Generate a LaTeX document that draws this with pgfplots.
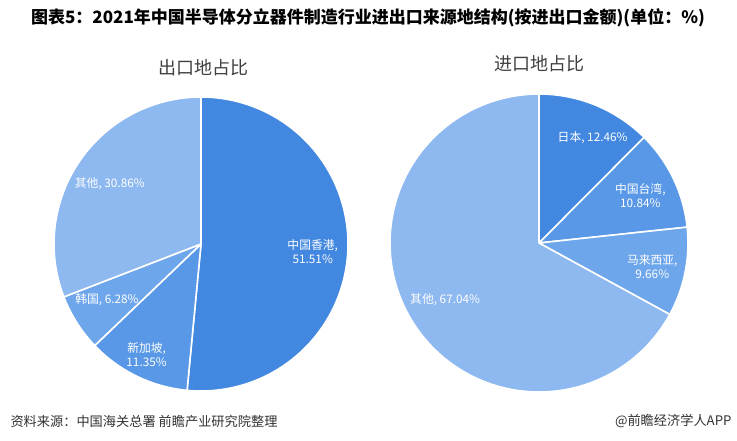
\documentclass[border=0pt]{standalone}
\usepackage{pgfplots}
\pgfplotsset{compat=1.18}
\usepackage{fontspec}
\setmainfont{Noto Sans CJK SC}
\definecolor{cA}{RGB}{66,135,224}
\definecolor{cB}{RGB}{88,152,230}
\definecolor{cC}{RGB}{110,166,235}
\definecolor{cD}{RGB}{141,184,240}
\definecolor{ttl}{RGB}{64,64,64}
\definecolor{foot}{RGB}{50,50,50}
% slice: color, cumulative percent before, percent
\newcommand\slice[3]{%
  \pgfmathsetmacro\aEnd{90-3.6*#2}%
  \pgfmathsetmacro\aStart{90-3.6*(#2+#3)}%
  \addplot[fill=#1, draw=white, line width=1.6pt, line join=round, domain=\aStart:\aEnd, samples=150, variable=\t]
    ({cos(\t)},{sin(\t)}) -- (axis cs:0,0) -- cycle;
}
\pgfplotsset{pie/.style={hide axis, scale only axis, width=#1pt, height=#1pt,
  xmin=-1, xmax=1, ymin=-1, ymax=1, anchor=center, clip=false}}
\tikzset{lab/.style={text=white, font=\fontsize{11.8}{13.8}\selectfont, align=center, inner sep=0pt}}
\begin{document}
\begin{tikzpicture}
\path[use as bounding box, fill=white] (0pt,0pt) rectangle (737pt,-441pt);
\node[font=\fontsize{17}{19}\selectfont\bfseries, text=black] at (368pt,-18pt) {图表5：2021年中国半导体分立器件制造行业进出口来源地结构(按进出口金额)(单位：\%)};
\node[font=\fontsize{18}{20}\selectfont, text=ttl] at (203pt,-68pt) {出口地占比};
\node[font=\fontsize{18}{20}\selectfont, text=ttl] at (539pt,-64pt) {进口地占比};

% Export pie: 中国香港 51.51, 新加坡 11.35, 韩国 6.28, 其他 30.86
\begin{axis}[pie=294, at={(201pt,-244pt)}]
\slice{cA}{0}{51.51}
\slice{cB}{51.51}{11.35}
\slice{cC}{62.86}{6.28}
\slice{cD}{69.14}{30.86}
\node[lab] at (axis cs:0.76,-0.05) {中国香港,\\51.51\%};
\node[lab] at (axis cs:-0.37,-0.75) {新加坡,\\11.35\%};
\node[lab] at (axis cs:-0.64,-0.38) {韩国, 6.28\%};
\node[lab] at (axis cs:-0.62,0.41) {其他, 30.86\%};
\end{axis}

% Import pie: 日本 12.46, 中国台湾 10.84, 马来西亚 9.66, 其他 67.04
\begin{axis}[pie=298, at={(539pt,-243pt)}]
\slice{cA}{0}{12.46}
\slice{cB}{12.46}{10.84}
\slice{cC}{23.30}{9.66}
\slice{cD}{32.96}{67.04}
\node[lab] at (axis cs:0.36,0.71) {日本, 12.46\%};
\node[lab] at (axis cs:0.68,0.32) {中国台湾,\\10.84\%};
\node[lab] at (axis cs:0.76,-0.16) {马来西亚,\\9.66\%};
\node[lab] at (axis cs:-0.63,-0.38) {其他, 67.04\%};
\end{axis}

\node[anchor=west, font=\fontsize{13.2}{15}\selectfont, text=foot] at (7pt,-421pt) {资料来源：中国海关总署 前瞻产业研究院整理};
\node[anchor=east, font=\fontsize{13.2}{15}\selectfont, text=foot] at (735pt,-421pt) {@前瞻经济学人APP};
\end{tikzpicture}
\end{document}
